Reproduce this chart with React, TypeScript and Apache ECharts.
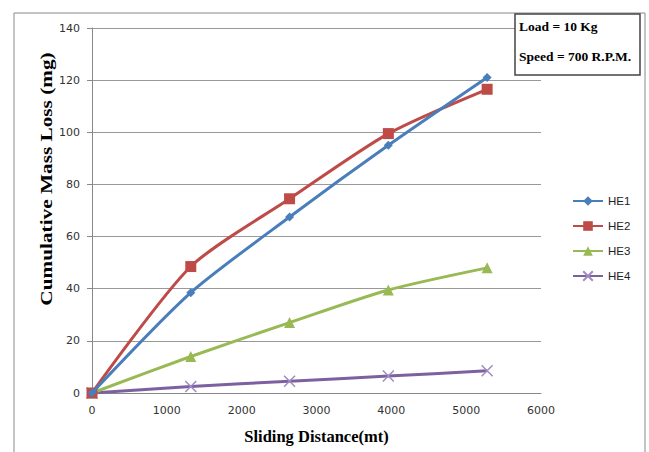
import React, { useEffect, useRef } from "react";
import * as echarts from "echarts";

const distances = [0, 1320, 2640, 3960, 5280];
const he1 = [0, 38.5, 67.5, 95, 121];
const he2 = [0, 48.5, 74.5, 99.5, 116.5];
const he3 = [0, 14, 27, 39.5, 48];
const he4 = [0, 2.5, 4.5, 6.5, 8.5];
const seriesNames = ["HE1", "HE2", "HE3", "HE4"];
const annotationLines = ["Load = 10 Kg", "Speed = 700 R.P.M."];
const xTitle = "Sliding Distance(mt)";
const yTitle = "Cumulative Mass Loss (mg)";

const colors = ["#4A7EBB", "#BE4B48", "#98B954", "#7D60A0"];
const symbols = ["diamond", "rect", "triangle", "path://M0,0L10,10M10,0L0,10"];
const symbolSizes = [9, 11, 11, 11];

export default function App() {
  const ref = useRef<HTMLDivElement>(null);
  useEffect(() => {
    if (!ref.current) return;
    const chart = echarts.init(ref.current, null, { renderer: "svg" });
    const all = [he1, he2, he3, he4];
    const series = all.map((vals, i) => ({
      name: seriesNames[i],
      type: "line",
      smooth: 0.25,
      data: vals.map((v, j) => [distances[j], v]),
      symbol: symbols[i],
      symbolSize: symbolSizes[i],
      showAllSymbol: true,
      lineStyle: { color: colors[i], width: 3 },
      itemStyle:
        i === 3
          ? { color: "rgba(0,0,0,0)", borderColor: "#A08CC0", borderWidth: 1.5 }
          : { color: colors[i], borderColor: colors[i], borderWidth: 0 },
      z: 10 - i,
    }));
    chart.setOption({
      animation: false,
      backgroundColor: "#ffffff",
      grid: { left: 92, top: 28, right: 108, bottom: 59, containLabel: false },
      xAxis: {
        type: "value",
        min: 0,
        max: 6000,
        interval: 1000,
        name: xTitle,
        nameLocation: "middle",
        nameGap: 35,
        nameTextStyle: { fontFamily: "Liberation Serif", fontWeight: "bold", fontSize: 16.5, color: "#000" },
        axisLine: { lineStyle: { color: "#888" } },
        axisTick: { show: false },
        axisLabel: { fontFamily: "DejaVu Sans", fontSize: 11, color: "#333", margin: 12, formatter: (v: number) => String(v) },
        splitLine: { show: false },
      },
      yAxis: {
        type: "value",
        min: 0,
        max: 140,
        interval: 20,
        axisLine: { show: true, lineStyle: { color: "#888" } },
        axisTick: { show: true, inside: false, length: 5, lineStyle: { color: "#888" } },
        axisLabel: { fontFamily: "DejaVu Sans", fontSize: 11, color: "#333", margin: 12 },
        splitLine: { lineStyle: { color: "#999", width: 1 } },
      },
      legend: {
        orient: "vertical",
        left: 567,
        top: 190,
        itemWidth: 30,
        itemHeight: 12,
        itemGap: 13,
        textStyle: { fontFamily: "Liberation Sans", fontSize: 11.5, color: "#222" },
        data: seriesNames,
      },
      graphic: [
        {
          type: "rect",
          shape: { x: 14, y: 13, width: 631, height: 450 },
          style: { fill: "none", stroke: "#888", lineWidth: 1 },
          silent: true,
          z: -10,
        },
        {
          type: "text",
          x: 46,
          y: 179,
          rotation: Math.PI / 2,
          scaleX: 1.33,
          style: {
            text: yTitle,
            fontFamily: "Liberation Serif",
            fontWeight: "bold",
            fontSize: 16,
            fill: "#000",
            align: "center",
            verticalAlign: "middle",
          },
          z: 100,
        },
        {
          type: "rect",
          shape: { x: 515, y: 14, width: 125, height: 61 },
          style: { fill: "#fff", stroke: "#444", lineWidth: 1.5 },
          z: 100,
        },
        {
          type: "text",
          x: 519,
          y: 19,
          style: { text: annotationLines[0], fontFamily: "Liberation Serif", fontWeight: "bold", fontSize: 13.5, fill: "#000" },
          z: 101,
        },
        {
          type: "text",
          x: 519,
          y: 49,
          style: { text: annotationLines[1], fontFamily: "Liberation Serif", fontWeight: "bold", fontSize: 13.5, fill: "#000" },
          z: 101,
        },
      ],
      series,
    });
    return () => chart.dispose();
  }, []);
  return <div ref={ref} style={{ width: 649, height: 452, position: "absolute", left: 0, top: 0 }} />;
}
